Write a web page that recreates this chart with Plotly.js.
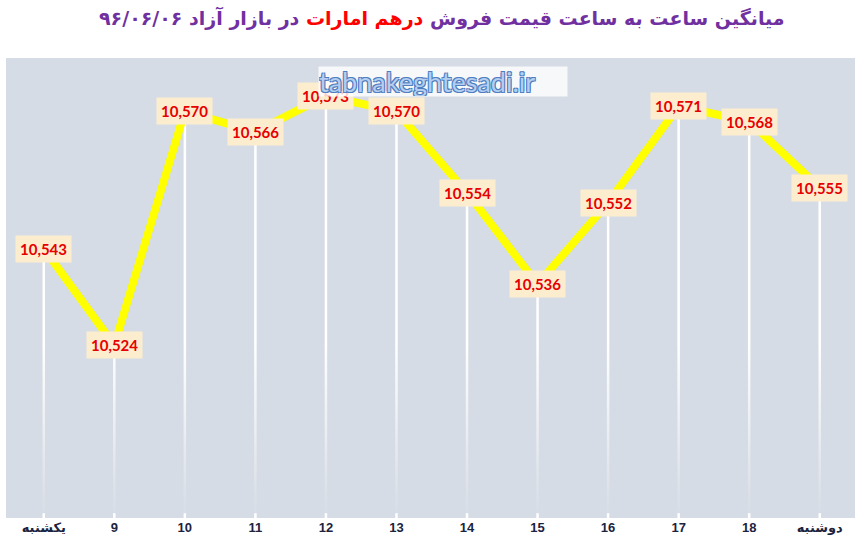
<!DOCTYPE html>
<html>
<head>
<meta charset="utf-8">
<script src="https://cdn.plot.ly/plotly-3.0.1.min.js"></script>
<style>html,body{margin:0;padding:0;background:#fff;}#chart{width:864px;height:550px;}</style>
</head>
<body>
<div id="chart"></div>
<script>
const categories = ['یکشنبه', '9', '10', '11', '12', '13', '14', '15', '16', '17', '18', 'دوشنبه'];
const prices = [10543, 10524, 10570, 10566, 10573, 10570, 10554, 10536, 10552, 10571, 10568, 10555];
const yMin = 10490, yMax = 10580;
const titleMain1 = 'میانگین ساعت به ساعت قیمت فروش ';
const titleRed = 'درهم امارات';
const titleMain2 = ' در بازار آزاد ۹۶/۰۶/۰۶';
const watermark = 'tabnakeghtesadi.ir';

const fmt = v => v.toLocaleString('en-US');
const idx = categories.map((c, i) => i);

const W = 864, H = 550, mL = 6, mR = 9, mT = 58, mB = 32;
const pw = W - mL - mR, ph = H - mT - mB;
const dx = 2.5 / pw, dy = 2.5 / ph;
const px2x = p => (p - mL) / pw;
const px2y = p => (H - mB - p) / ph;

const shadowTrace = {
  x: idx, y: prices, type: 'scatter', mode: 'lines',
  xaxis: 'x', yaxis: 'y',
  line: {color: '#5b9bd5', width: 7},
  hoverinfo: 'skip', showlegend: false
};
const dropTrace = {
  x: idx, y: prices, type: 'scatter', mode: 'markers',
  xaxis: 'x2', yaxis: 'y2',
  marker: {size: 1, color: 'rgba(0,0,0,0)'},
  error_y: {type: 'data', symmetric: false, array: prices.map(() => 0),
            arrayminus: prices.map(v => v - yMin), color: '#ffffff', thickness: 2.5, width: 0},
  hoverinfo: 'skip', showlegend: false
};
const mainTrace = {
  x: idx, y: prices, type: 'scatter', mode: 'lines',
  xaxis: 'x2', yaxis: 'y2',
  line: {color: '#ffff00', width: 8},
  showlegend: false
};

const annotations = idx.map(i => ({
  x: i, y: prices[i], xref: 'x2', yref: 'y2',
  text: '<b>' + fmt(prices[i]) + '</b>', showarrow: false,
  font: {family: 'Lato, "Open Sans", sans-serif', size: 15, color: '#e60000'},
  bgcolor: '#fdedcf', borderpad: 4
}));
annotations.push({
  x: px2x(318), y: px2y(81), xref: 'paper', yref: 'paper', xanchor: 'left', yanchor: 'middle',
  text: watermark, showarrow: false, align: 'left',
  font: {family: 'Lato, "Open Sans", sans-serif', size: 27, color: '#b4cdf0',
         shadow: '1px 1px 0 #4f7fbf, -1px -1px 0 #4f7fbf, 1px -1px 0 #4f7fbf, -1px 1px 0 #4f7fbf'},
  bgcolor: 'rgba(255,255,255,0.8)', borderpad: 0, width: 248, height: 29
});
annotations.push({
  x: px2x(442), y: px2y(18), xref: 'paper', yref: 'paper', xanchor: 'center', yanchor: 'middle',
  text: '<b>' + titleMain1 + '<span style="color:#ff0000">' + titleRed + '</span>' + titleMain2 + '</b>',
  showarrow: false,
  font: {family: '"DejaVu Sans", sans-serif', size: 19, color: '#7030a0'}
});

const gradSvg = '<svg xmlns="http://www.w3.org/2000/svg" width="10" height="100" preserveAspectRatio="none">' +
  '<defs><linearGradient id="g" x1="0" y1="0" x2="0" y2="1">' +
  '<stop offset="0" stop-color="#d6dce5" stop-opacity="0"/>' +
  '<stop offset="1" stop-color="#d6dce5" stop-opacity="0.97"/></linearGradient></defs>' +
  '<rect width="10" height="100" fill="url(#g)"/></svg>';

const tickFont = {family: '"Liberation Sans Narrow", "Liberation Sans", "DejaVu Sans", sans-serif', size: 13, color: '#1b2340', weight: 'bold'};

const layout = {
  width: W, height: H,
  margin: {l: mL, r: mR, t: mT, b: mB},
  paper_bgcolor: '#ffffff', plot_bgcolor: 'rgba(0,0,0,0)',
  shapes: [{type: 'rect', xref: 'paper', yref: 'paper', x0: 0, x1: 1, y0: 0, y1: 1,
            fillcolor: '#d6dce5', line: {width: 0}, layer: 'below'}],
  xaxis: {range: [-0.5, 11.5], domain: [dx, 1 + dx], visible: false, fixedrange: true, anchor: 'y'},
  yaxis: {range: [yMin, yMax], domain: [-dy, 1 - dy], visible: false, fixedrange: true, anchor: 'x'},
  xaxis2: {range: [-0.5, 11.5], domain: [0, 1], overlaying: 'x', anchor: 'y2',
           tickmode: 'array', tickvals: idx, ticktext: categories,
           showgrid: false, zeroline: false, showline: false, ticks: '', fixedrange: true,
           tickfont: tickFont},
  yaxis2: {range: [yMin, yMax], domain: [0, 1], overlaying: 'y', anchor: 'x2',
           showgrid: false, zeroline: false, showticklabels: false, ticks: '', fixedrange: true},
  images: [{source: 'data:image/svg+xml;charset=utf-8,' + encodeURIComponent(gradSvg),
            xref: 'paper', yref: 'paper', x: 0, y: 0.38, sizex: 1, sizey: 0.37,
            xanchor: 'left', yanchor: 'top', sizing: 'stretch', layer: 'above'}],
  annotations: annotations,
  showlegend: false
};

Plotly.newPlot('chart', [shadowTrace, dropTrace, mainTrace], layout, {displayModeBar: false, staticPlot: true});
</script>
</body>
</html>
